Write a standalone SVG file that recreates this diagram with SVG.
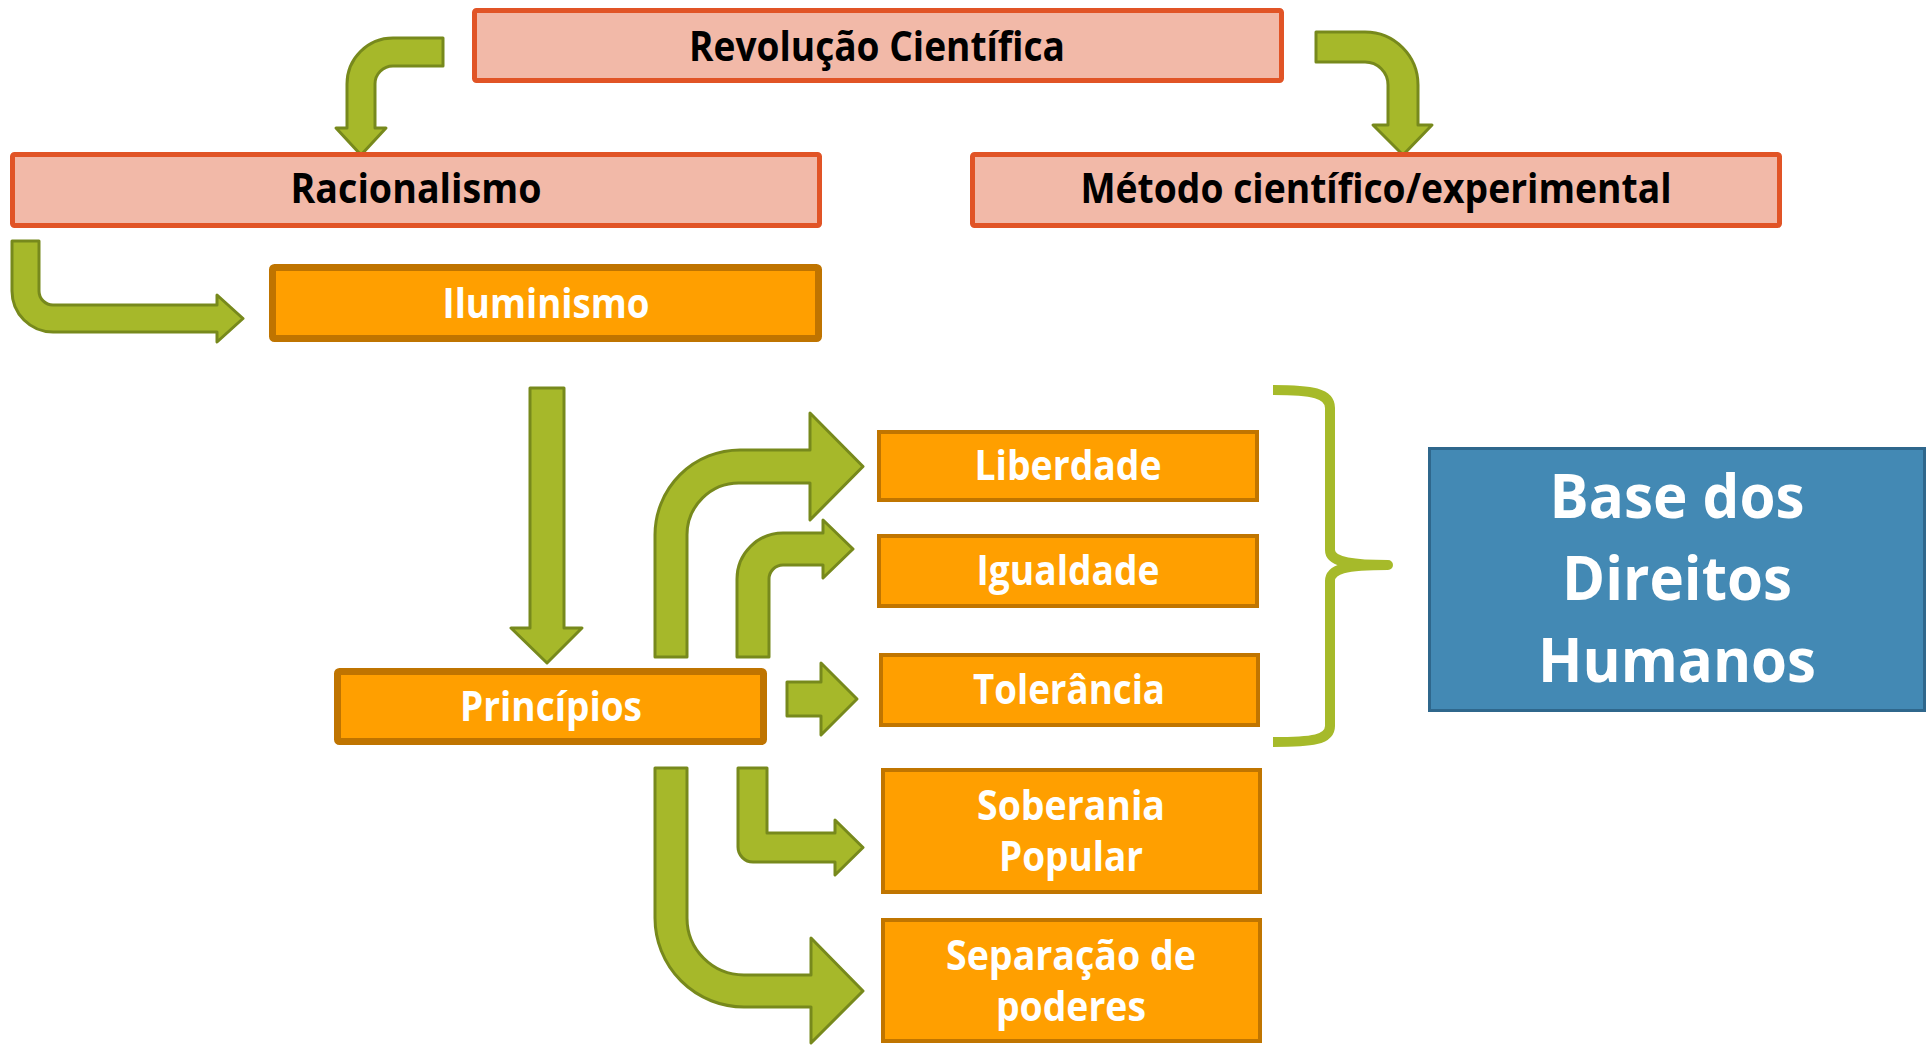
<svg xmlns="http://www.w3.org/2000/svg" width="1928" height="1045" viewBox="0 0 1928 1045">
<style>
.pink{fill:#F2B9A8;stroke:#E15426;stroke-width:5}
.org{fill:#FF9F00;stroke:#BF7400;stroke-width:7}
.org2{fill:#FF9F00;stroke:#C07500;stroke-width:4}
.blue{fill:#4389B4;stroke:#2F678C;stroke-width:3}
.arr{fill:#A6B82A;stroke:#77891C;stroke-width:3;stroke-linejoin:round}
.brace{fill:none;stroke:#A6BA2A;stroke-width:10;stroke-linecap:butt;stroke-linejoin:round}
text{font-family:"Open Sans","Noto Sans","DejaVu Sans",sans-serif;font-weight:700;text-anchor:middle}
.blk{fill:#000;font-size:41px}
.wht{fill:#fff;font-size:41px}
.big{fill:#fff;font-size:61px}
</style>
<rect width="1928" height="1045" fill="#fff"/>
<g id="connectors">
<path class="arr" d="M443,38 L393,38 A46,46 0 0 0 347,84 L347,128 L336,128 L361,155 L386,128 L375,128 L375,84 A18,18 0 0 1 393,66 L443,66 Z"/>
<path class="arr" d="M1316,32 L1365,32 A53,53 0 0 1 1418,85 L1418,125 L1432,125 L1403,155 L1373,125 L1388,125 L1388,85 A23,23 0 0 0 1365,62 L1316,62 Z"/>
<path class="arr" d="M12,241 L39,241 L39,291 A14,14 0 0 0 53,305 L217,305 L217,295 L243,318.5 L217,342 L217,332 L53,332 A41,41 0 0 1 12,291 Z"/>
<path class="arr" d="M530,388 L564,388 L564,628 L582,628 L547,663 L511,628 L530,628 Z"/>
<path class="arr" d="M655,657 L655,535 A85,85 0 0 1 740,450 L810,450 L810,413 L863,466.5 L810,520 L810,483 L740,483 A52,52 0 0 0 687,535 L687,657 Z"/>
<path class="arr" d="M737,657 L737,579 A46,46 0 0 1 783,533 L823,533 L823,520 L853,549 L823,578 L823,565 L783,565 A14,14 0 0 0 769,579 L769,657 Z"/>
<path class="arr" d="M787,682 L821,682 L821,663 L857,699 L821,735 L821,716 L787,716 Z"/>
<path class="arr" d="M738,768 L767,768 L767,833 L835,833 L835,820 L863,847.5 L835,875 L835,862 L753,862 A15,15 0 0 1 738,847 Z"/>
<path class="arr" d="M655,768 L687,768 L687,918 A57,57 0 0 0 744,975 L811,975 L811,938 L863,991 L811,1043 L811,1007 L744,1007 A89,89 0 0 1 655,918 Z"/>
<path class="brace" d="M1273,390 C1312,390 1330,393 1330,408 L1330,550 C1330,561 1345,565 1388,565 C1345,565 1330,569 1330,581 L1330,726 C1330,740 1312,742 1273,742"/>
</g>
<g id="revolucao">
<rect class="pink" x="474.5" y="10.5" width="807" height="70" rx="2"/>
<text class="blk" x="877" y="61" textLength="376" lengthAdjust="spacingAndGlyphs">Revolução Científica</text>
</g>
<g id="racionalismo">
<rect class="pink" x="12.5" y="154.5" width="807" height="71" rx="2"/>
<text class="blk" x="416" y="203" textLength="251" lengthAdjust="spacingAndGlyphs">Racionalismo</text>
</g>
<g id="metodo">
<rect class="pink" x="972.5" y="154.5" width="807" height="71" rx="2"/>
<text class="blk" x="1376" y="203" textLength="591" lengthAdjust="spacingAndGlyphs">Método científico/experimental</text>
</g>
<g id="iluminismo">
<rect class="org" x="272.5" y="267.5" width="546" height="71" rx="2"/>
<text class="wht" x="546" y="318" textLength="207" lengthAdjust="spacingAndGlyphs">Iluminismo</text>
</g>
<g id="principios">
<rect class="org" x="337.5" y="671.5" width="426" height="70" rx="2"/>
<text class="wht" x="551" y="721" textLength="182" lengthAdjust="spacingAndGlyphs">Princípios</text>
</g>
<g id="liberdade">
<rect class="org2" x="879" y="432" width="378" height="68"/>
<text class="wht" x="1068" y="480" textLength="187" lengthAdjust="spacingAndGlyphs">Liberdade</text>
</g>
<g id="igualdade">
<rect class="org2" x="879" y="536" width="378" height="70"/>
<text class="wht" x="1068" y="585" textLength="183" lengthAdjust="spacingAndGlyphs">Igualdade</text>
</g>
<g id="tolerancia">
<rect class="org2" x="881" y="655" width="377" height="70"/>
<text class="wht" x="1069" y="704" textLength="192" lengthAdjust="spacingAndGlyphs">Tolerância</text>
</g>
<g id="soberania">
<rect class="org2" x="883" y="770" width="377" height="122"/>
<text class="wht" x="1071" y="820" textLength="188" lengthAdjust="spacingAndGlyphs">Soberania</text>
<text class="wht" x="1071" y="871" textLength="144" lengthAdjust="spacingAndGlyphs">Popular</text>
</g>
<g id="separacao">
<rect class="org2" x="883" y="920" width="377" height="121"/>
<text class="wht" x="1071" y="970" textLength="250" lengthAdjust="spacingAndGlyphs">Separação de</text>
<text class="wht" x="1071" y="1021" textLength="150" lengthAdjust="spacingAndGlyphs">poderes</text>
</g>
<g id="base-direitos-humanos">
<rect class="blue" x="1429.5" y="448.5" width="495" height="262"/>
<text class="big" x="1677" y="518" textLength="255" lengthAdjust="spacingAndGlyphs">Base dos</text>
<text class="big" x="1677" y="600" textLength="230" lengthAdjust="spacingAndGlyphs">Direitos</text>
<text class="big" x="1677" y="682" textLength="278" lengthAdjust="spacingAndGlyphs">Humanos</text>
</g>
</svg>
